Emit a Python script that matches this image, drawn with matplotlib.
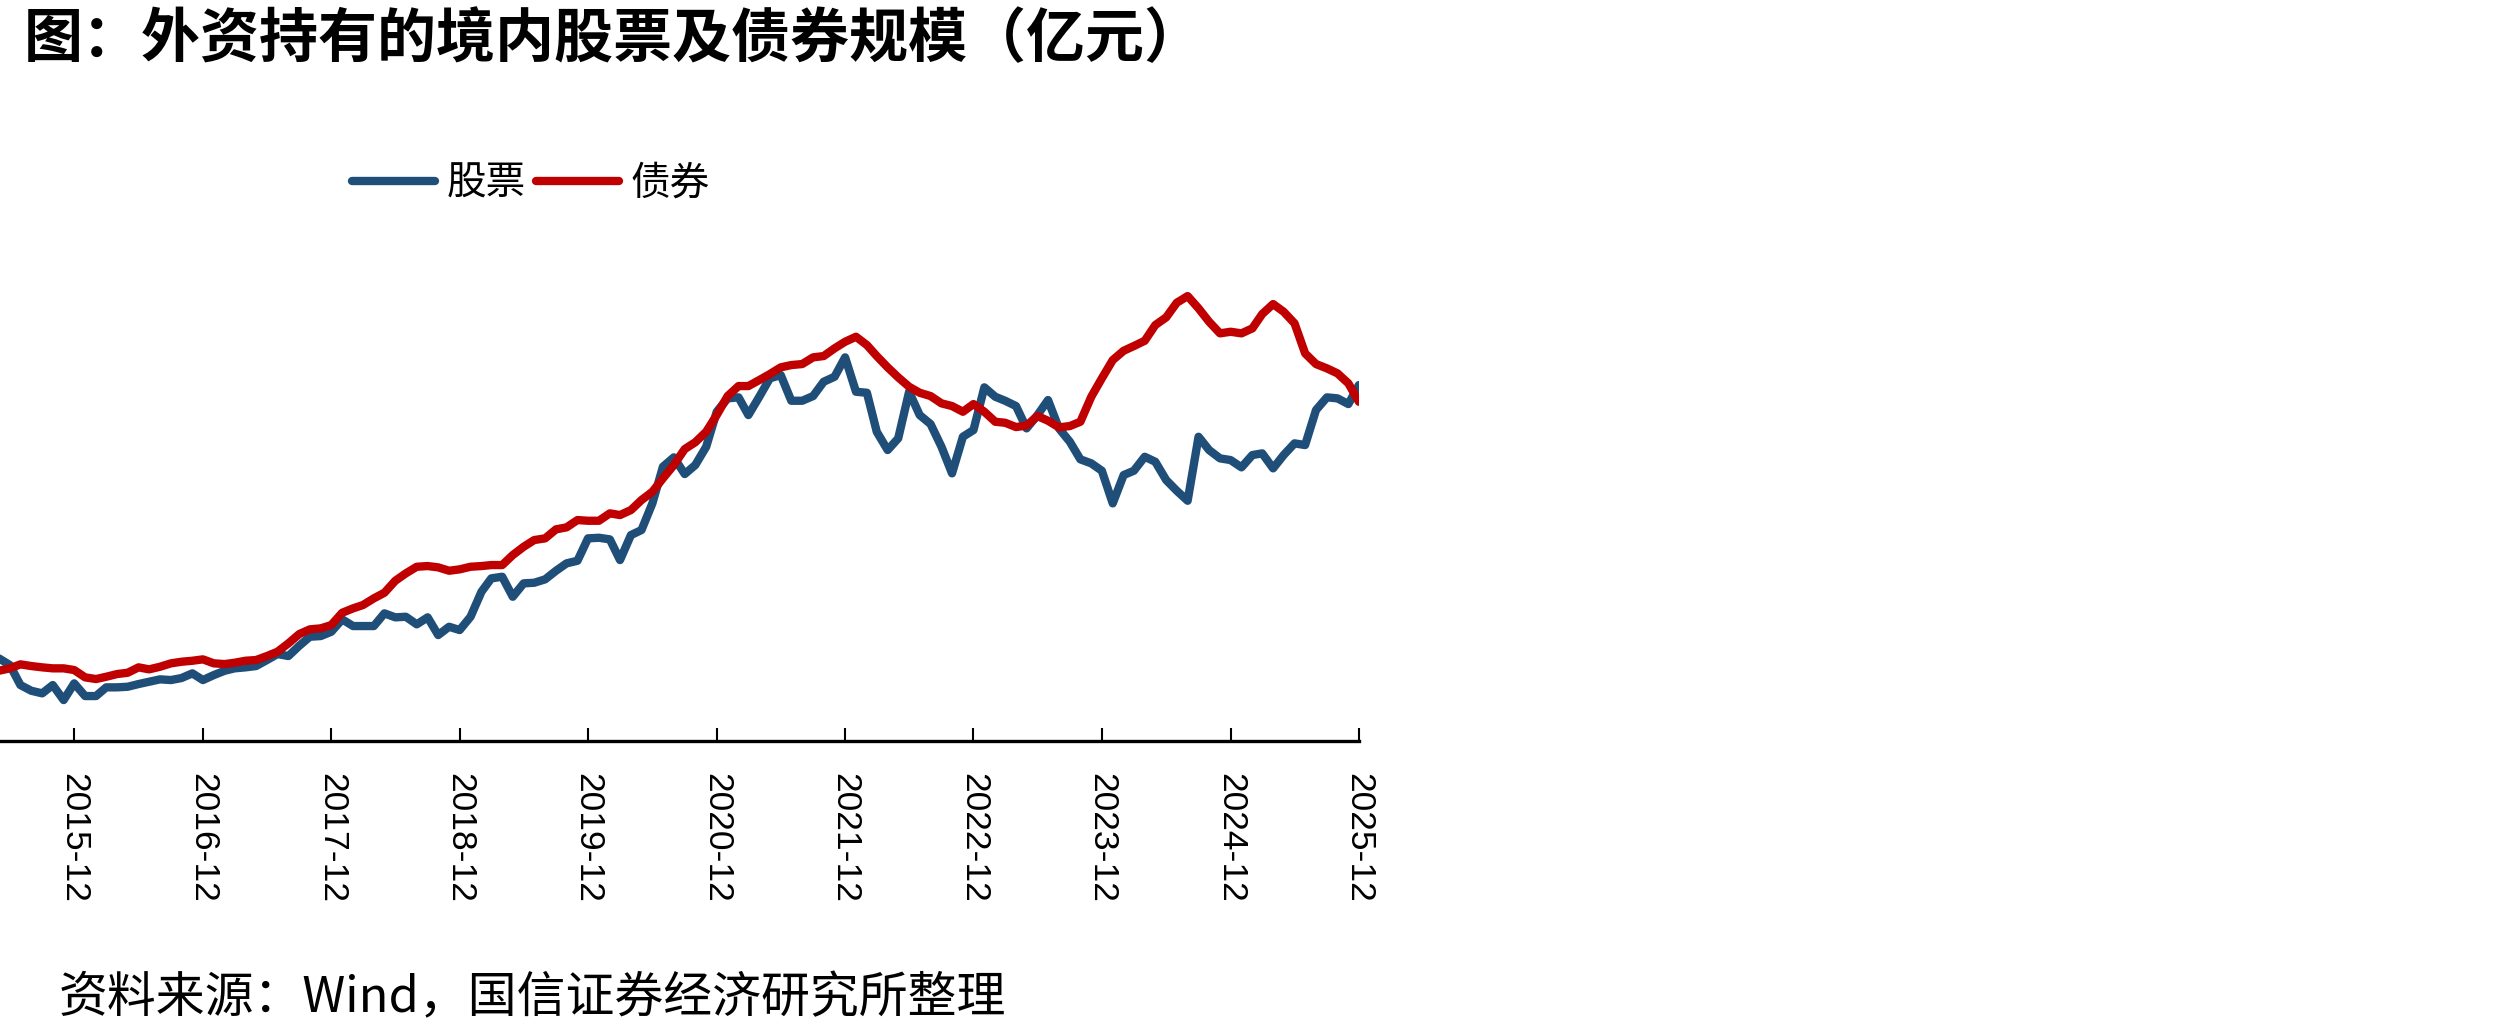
import matplotlib
matplotlib.use('Agg')
import matplotlib.pyplot as plt
import pandas as pd

plt.rcParams['font.family'] = ['Noto Sans CJK SC', 'DejaVu Sans']

# 月度数据（亿元），2015-05 至 2025-12
dates = pd.date_range('2015-05-01', '2025-12-01', freq='MS')

stock = [8270, 7600, 5600, 5030, 4770, 5600, 4100,
         5770, 4500, 4500, 5370, 5370, 5430, 5700, 5930, 6170, 6100, 6300, 6770,
         6100, 6600, 7030, 7270, 7370, 7500, 8100, 8700, 8500, 9530, 10430, 10500,
         10930, 12170, 11500, 11500, 11500, 12770, 12370, 12430, 11670, 12370, 10600, 11430,
         11100, 12430, 14930, 16270, 16430, 14430, 15770, 15830, 16170, 17030, 17770, 18030,
         20270, 20330, 20170, 18100, 20600, 21100, 23770, 27430, 28370, 26700, 27600, 29430,
         32930, 34270, 34370, 32600, 34430, 36270, 36600, 34030, 34030, 34500, 35930, 36430,
         38370, 34930, 34830, 30930, 29100, 30270, 34930, 32600, 31700, 29430, 26770, 30430,
         31100, 35370, 34430, 34030, 33500, 31270, 32600, 34100, 31270, 29930, 28170, 27770,
         27030, 23770, 26600, 27030, 28430, 27930, 26100, 25030, 24030, 30430, 29100, 28270,
         28100, 27370, 28600, 28770, 27270, 28600, 29770, 29600, 33100, 34370, 34270, 33700, 35600]

bond = [7030, 7270, 7670, 7500, 7370, 7270, 7270,
        7100, 6370, 6200, 6430, 6700, 6830, 7370, 7170, 7430, 7770, 7930, 8030,
        8170, 7770, 7700, 7830, 8030, 8100, 8500, 8930, 9770, 10700, 11170, 11270,
        11600, 12830, 13270, 13600, 14270, 14830, 16030, 16770, 17430, 17500, 17370, 17030,
        17170, 17430, 17500, 17600, 17600, 18600, 19430, 20100, 20270, 21170, 21370, 22100,
        22030, 22030, 22770, 22600, 23100, 24100, 24930, 26270, 27600, 29200, 29880, 30930,
        32600, 34500, 35500, 35500, 36100, 36700, 37370, 37600, 37700, 38370, 38500, 39270,
        39930, 40430, 39600, 38500, 37370, 36370, 35430, 34830, 34500, 33770, 33500, 32930,
        33700, 32930, 31930, 31830, 31400, 31550, 32500, 32030, 31370, 31500, 31930, 34430,
        36270, 38100, 39030, 39500, 40030, 41600, 42370, 43830, 44500, 43270, 41930, 40770,
        40930, 40770, 41270, 42700, 43700, 42930, 41770, 38770, 37700, 37270, 36770, 35770, 33930]

tick_dates = pd.date_range('2015-12-01', '2025-12-01', freq='12MS')
tick_labels = [d.strftime('%Y-%m') for d in tick_dates]

fig = plt.figure(figsize=(25.1, 10.36), dpi=100)
ax = fig.add_axes([0, 0.2847, 0.5414, 0.5608])

ax.plot(dates, stock, color='#1F4E79', lw=6, label='股票', solid_capstyle='round')
ax.plot(dates, bond, color='#C00000', lw=6, label='债券', solid_capstyle='round')

ax.set_xlim(pd.Timestamp('2015-05-04'), pd.Timestamp('2025-12-01'))
ax.set_ylim(0, 58100)

for s in ['left', 'right', 'top']:
    ax.spines[s].set_visible(False)
ax.spines['bottom'].set_linewidth(2.4)
ax.spines['bottom'].set_color('black')
ax.set_yticks([])

ax.set_xticks(tick_dates)
ax.set_xticklabels(tick_labels, rotation=-90, fontsize=25.5,
                   family=['Liberation Sans', 'DejaVu Sans'])
ax.tick_params(axis='x', direction='in', length=9.5, width=1.5, pad=23)

leg = fig.legend(loc='center', bbox_to_anchor=(0.2115, 0.823), ncol=2,
                 frameon=False, fontsize=28.5, handlelength=2.1,
                 handletextpad=0.3, columnspacing=0.25)
for h in leg.get_lines():
    h.set_linewidth(6)
    h.set_solid_capstyle('round')

fig.text(0.0096, 0.961, '图：外资持有的境内股票及债券规模（亿元）',
         fontsize=42.5, fontweight='heavy', va='center', ha='left')
fig.text(0.0235, 0.036, '资料来源：Wind，国信证券经济研究所整理',
         fontsize=35.2, va='center', ha='left')

plt.savefig('out.png', dpi=100)
